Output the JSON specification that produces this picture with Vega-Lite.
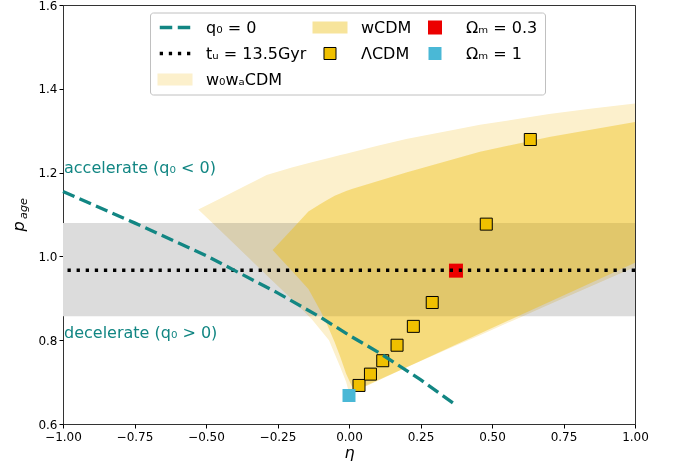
{
  "$schema": "https://vega.github.io/schema/vega-lite/v6.json",
  "width": 572,
  "height": 419,
  "autosize": {"type": "none"},
  "padding": {"left": 63, "top": 5, "right": 40, "bottom": 42},
  "config": {
    "font": "DejaVu Sans",
    "view": {"stroke": "#333333", "strokeWidth": 1},
    "axis": {"grid": false}
  },
  "datasets": {
    "band": [{"x": -1, "x2": 1, "y": 0.857, "y2": 1.08}],
    "w0wa": [
      {"x": -0.527, "top": 1.112, "bot": 1.112, "s": "w0wa"},
      {"x": -0.45, "top": 1.138, "bot": 1.062, "s": "w0wa"},
      {"x": -0.35, "top": 1.173, "bot": 0.996, "s": "w0wa"},
      {"x": -0.288, "top": 1.194, "bot": 0.955, "s": "w0wa"},
      {"x": -0.2, "top": 1.212, "bot": 0.898, "s": "w0wa"},
      {"x": -0.13, "top": 1.225, "bot": 0.85, "s": "w0wa"},
      {"x": -0.07, "top": 1.235, "bot": 0.8, "s": "w0wa"},
      {"x": -0.03, "top": 1.242, "bot": 0.735, "s": "w0wa"},
      {"x": -0.01, "top": 1.245, "bot": 0.7, "s": "w0wa"},
      {"x": 0.0, "top": 1.247, "bot": 0.675, "s": "w0wa"},
      {"x": 0.1, "top": 1.264, "bot": 0.705, "s": "w0wa"},
      {"x": 0.2, "top": 1.28, "bot": 0.735, "s": "w0wa"},
      {"x": 0.35, "top": 1.3, "bot": 0.78, "s": "w0wa"},
      {"x": 0.458, "top": 1.314, "bot": 0.812, "s": "w0wa"},
      {"x": 0.6, "top": 1.329, "bot": 0.855, "s": "w0wa"},
      {"x": 0.7, "top": 1.34, "bot": 0.885, "s": "w0wa"},
      {"x": 0.85, "top": 1.353, "bot": 0.93, "s": "w0wa"},
      {"x": 1.0, "top": 1.365, "bot": 0.975, "s": "w0wa"}
    ],
    "wcdm": [
      {"x": -0.267, "top": 1.015, "bot": 1.015},
      {"x": -0.2, "top": 1.064, "bot": 0.966},
      {"x": -0.142, "top": 1.107, "bot": 0.922},
      {"x": -0.1, "top": 1.125, "bot": 0.87},
      {"x": -0.078, "top": 1.134, "bot": 0.84},
      {"x": -0.05, "top": 1.145, "bot": 0.795},
      {"x": -0.031, "top": 1.15, "bot": 0.761},
      {"x": -0.01, "top": 1.156, "bot": 0.72},
      {"x": 0.01, "top": 1.161, "bot": 0.69},
      {"x": 0.03, "top": 1.165, "bot": 0.681},
      {"x": 0.2, "top": 1.2, "bot": 0.735},
      {"x": 0.458, "top": 1.25, "bot": 0.816},
      {"x": 0.7, "top": 1.285, "bot": 0.891},
      {"x": 1.0, "top": 1.321, "bot": 0.985}
    ],
    "q0": [
      {"x": -1.0, "y": 1.155},
      {"x": -0.75, "y": 1.08},
      {"x": -0.5, "y": 1.002},
      {"x": -0.25, "y": 0.913},
      {"x": -0.1, "y": 0.855},
      {"x": 0.0, "y": 0.812},
      {"x": 0.108, "y": 0.769},
      {"x": 0.25, "y": 0.706},
      {"x": 0.364, "y": 0.65}
    ],
    "tu": [{"y": 0.967}],
    "pts": [
      {"x": 0.035, "y": 0.692, "s": "lcdm"},
      {"x": 0.075, "y": 0.719, "s": "lcdm"},
      {"x": 0.118, "y": 0.751, "s": "lcdm"},
      {"x": 0.168, "y": 0.788, "s": "lcdm"},
      {"x": 0.225, "y": 0.833, "s": "lcdm"},
      {"x": 0.291, "y": 0.89, "s": "lcdm"},
      {"x": 0.48, "y": 1.077, "s": "lcdm"},
      {"x": 0.634, "y": 1.279, "s": "lcdm"},
      {"x": 0.374, "y": 0.966, "s": "om03"},
      {"x": 0.0, "y": 0.668, "s": "om1"}
    ],
    "ann": [
      {"x": -1, "y": 1.2, "t": "accelerate (q₀ < 0)"},
      {"x": -1, "y": 0.806, "t": "decelerate (q₀ > 0)"}
    ]
  },
  "layer": [
    {
      "data": {"name": "band"},
      "mark": {"type": "rect", "color": "#dcdcdc"},
      "encoding": {
        "x": {
          "field": "x", "type": "quantitative",
          "scale": {"domain": [-1, 1], "nice": false, "zero": false},
          "axis": {
            "title": "η", "values": [-1, -0.75, -0.5, -0.25, 0, 0.25, 0.5, 0.75, 1],
            "format": ".2f", "labelFontSize": 12, "labelFont": "DejaVu Sans", "labelColor": "black",
            "tickColor": "black", "tickSize": 4, "labelPadding": 3, "domain": false, "grid": false,
            "labelFlush": false,
            "titleFont": "DejaVu Sans", "titleFontSize": 16, "titleFontStyle": "italic",
            "titleFontWeight": "normal", "titleColor": "black", "titlePadding": 2
          }
        },
        "x2": {"field": "x2"},
        "y": {
          "field": "y", "type": "quantitative",
          "scale": {"domain": [0.6, 1.6], "nice": false, "zero": false},
          "axis": {
            "orient": "left",
            "values": [0.6, 0.8, 1.0, 1.2, 1.4, 1.6], "format": ".1f",
            "labelFontSize": 12, "labelFont": "DejaVu Sans", "labelColor": "black",
            "tickColor": "black", "tickSize": 4, "labelPadding": 2, "domain": false, "grid": false,
            "labelFlush": false,
            "title": "p", "titleFont": "DejaVu Sans", "titleFontSize": 16, "titleFontStyle": "italic",
            "titleFontWeight": "normal", "titleColor": "black", "titleAngle": -90,
            "titleX": -39.5, "titleY": 221, "titleAlign": "center", "titleBaseline": "alphabetic"
          }
        },
        "y2": {"field": "y2"}
      }
    },
    {
      "data": {"name": "w0wa"},
      "mark": {"type": "area", "orient": "vertical", "blend": "multiply"},
      "encoding": {
        "x": {"field": "x", "type": "quantitative"},
        "y": {"field": "top", "type": "quantitative", "axis": null},
        "y2": {"field": "bot"},
        "color": {
          "field": "s", "type": "nominal",
          "scale": {
            "domain": ["q0", "wcdm", "om03", "tu", "lcdm", "om1", "w0wa"],
            "range": ["#128683", "#f7e49b", "#ec0000", "black", "#f0c000", "#4ab8d6", "#fcf0cc"]
          },
          "legend": {
            "title": null, "orient": "none", "legendX": 87, "legendY": 7.5,
            "direction": "horizontal",
            "columns": 3, "columnPadding": 5, "rowPadding": 10, "padding": 7,
            "symbolSize": 1225, "clipHeight": 16, "labelOffset": 13,
            "symbolOpacity": 1, "symbolStrokeWidth": 1,
            "symbolType": {"expr": "datum.value==='q0' ? 'M-0.871,-0.094H-0.157V0.094H-0.871Z M0.157,-0.094H0.871V0.094H0.157Z' : datum.value==='tu' ? 'M-0.874,-0.094H-0.686V0.094H-0.874Z M-0.354,-0.094H-0.166V0.094H-0.354Z M0.166,-0.094H0.354V0.094H0.166Z M0.686,-0.094H0.874V0.094H0.686Z' : (datum.value==='wcdm'||datum.value==='w0wa') ? 'M-1,-0.34H1V0.34H-1Z' : datum.value==='lcdm' ? 'M-0.343,-0.343H0.343V0.343H-0.343Z' : datum.value==='om03' ? 'M-0.4,-0.4H0.4V0.4H-0.4Z' : 'M-0.371,-0.371H0.371V0.371H-0.371Z'"},
            "symbolStrokeColor": {"expr": "datum.value==='lcdm' ? 'black' : 'transparent'"},
            "labelFontSize": 16, "labelFont": "DejaVu Sans", "labelColor": "black", "labelLimit": 300,
            "strokeColor": "#c0c0c0", "fillColor": "rgba(255,255,255,0.8)", "cornerRadius": 3,
            "labelExpr": "datum.value==='q0' ? 'q₀ = 0' : datum.value==='tu' ? 'tᵤ = 13.5Gyr' : datum.value==='w0wa' ? 'w₀wₐCDM' : datum.value==='wcdm' ? 'wCDM' : datum.value==='lcdm' ? 'ΛCDM' : datum.value==='om03' ? 'Ωₘ = 0.3' : 'Ωₘ = 1'"
          }
        }
      }
    },
    {
      "data": {"name": "wcdm"},
      "mark": {"type": "area", "opacity": 0.4, "orient": "vertical", "color": "#edbb05"},
      "encoding": {
        "x": {"field": "x", "type": "quantitative"},
        "y": {"field": "top", "type": "quantitative", "axis": null},
        "y2": {"field": "bot"}
      }
    },
    {
      "data": {"name": "pts"},
      "transform": [{"filter": "datum.s==='lcdm'"}],
      "mark": {"type": "point", "shape": "square", "filled": true, "size": 144, "fill": "#f0c000", "stroke": "black", "strokeWidth": 1, "opacity": 1},
      "encoding": {
        "x": {"field": "x", "type": "quantitative"},
        "y": {"field": "y", "type": "quantitative", "axis": null}
      }
    },
    {
      "data": {"name": "pts"},
      "transform": [{"filter": "datum.s==='om03'"}],
      "mark": {"type": "point", "shape": "square", "filled": true, "size": 196, "color": "#ec0000", "opacity": 1},
      "encoding": {
        "x": {"field": "x", "type": "quantitative"},
        "y": {"field": "y", "type": "quantitative", "axis": null}
      }
    },
    {
      "data": {"name": "pts"},
      "transform": [{"filter": "datum.s==='om1'"}],
      "mark": {"type": "point", "shape": "square", "filled": true, "size": 169, "color": "#4ab8d6", "opacity": 1},
      "encoding": {
        "x": {"field": "x", "type": "quantitative"},
        "y": {"field": "y", "type": "quantitative", "axis": null}
      }
    },
    {
      "data": {"name": "tu"},
      "mark": {"type": "rule", "strokeWidth": 3.3, "strokeDash": [3.3, 5.8], "color": "black"},
      "encoding": {
        "y": {
          "field": "y", "type": "quantitative",
          "axis": {
            "orient": "left", "title": "age", "labels": false, "ticks": false, "domain": false, "grid": false,
            "titleFont": "DejaVu Sans", "titleFontSize": 11.2, "titleFontStyle": "italic",
            "titleFontWeight": "normal", "titleColor": "black", "titleAngle": -90,
            "titleX": -36.5, "titleY": 203, "titleAlign": "center", "titleBaseline": "alphabetic"
          }
        }
      }
    },
    {
      "data": {"name": "q0"},
      "mark": {"type": "line", "strokeWidth": 3.3, "strokeDash": [12.5, 5.5], "color": "#128683"},
      "encoding": {
        "x": {"field": "x", "type": "quantitative"},
        "y": {"field": "y", "type": "quantitative", "axis": null}
      }
    },
    {
      "data": {"name": "ann"},
      "mark": {"type": "text", "align": "left", "baseline": "alphabetic", "fontSize": 16, "font": "DejaVu Sans", "color": "#128683", "dx": 1},
      "encoding": {
        "x": {"field": "x", "type": "quantitative"},
        "y": {"field": "y", "type": "quantitative", "axis": null},
        "text": {"field": "t"}
      }
    }
  ],
  "resolve": {"axis": {"y": "independent"}}
}
